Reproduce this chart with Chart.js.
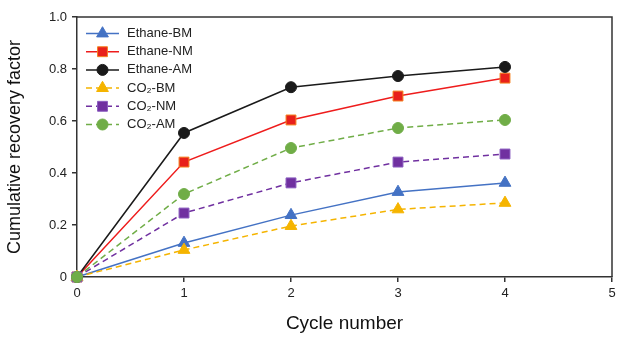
<!DOCTYPE html>
<html><head><meta charset="utf-8">
<script src="https://cdn.jsdelivr.net/npm/chart.js@4/dist/chart.umd.min.js"></script>
<style>html,body{margin:0;padding:0;background:#fff}#wrap{width:617px;height:339px}</style>
</head><body><div id="wrap"><canvas id="c"></canvas></div>
<script>
const cycles = [0, 1, 2, 3, 4];
const ethaneBM = [0, 0.131, 0.238, 0.327, 0.362];
const ethaneNM = [0, 0.442, 0.604, 0.696, 0.765];
const ethaneAM = [0, 0.554, 0.730, 0.773, 0.808];
const co2BM = [0, 0.104, 0.196, 0.260, 0.285];
const co2NM = [0, 0.246, 0.362, 0.442, 0.473];
const co2AM = [0, 0.319, 0.496, 0.573, 0.604];
const seriesNames = ['Ethane-BM', 'Ethane-NM', 'Ethane-AM', 'CO\u2082-BM', 'CO\u2082-NM', 'CO\u2082-AM'];
const xTicks = [0, 1, 2, 3, 4, 5];
const yTicks = [0, 0.2, 0.4, 0.6, 0.8, 1.0];

const styles = [
  {color:'#4472c4', fill:'#4472c4', border:'#4472c4', shape:'triangle', r:6.8, dash:[]},
  {color:'#ee1c1c', fill:'#e8201b', border:'#f58220', shape:'rect', r:7, dash:[]},
  {color:'#1a1a1a', fill:'#1a1a1a', border:'#1a1a1a', shape:'circle', r:5.5, dash:[]},
  {color:'#f5b400', fill:'#f5b400', border:'#f5b400', shape:'triangle', r:6.8, dash:[6,4]},
  {color:'#7030a0', fill:'#7030a0', border:'#8a5cbf', shape:'rect', r:7, dash:[6,4]},
  {color:'#70ad47', fill:'#70ad47', border:'#70ad47', shape:'circle', r:5.5, dash:[6,4]}
];
const values = [ethaneBM, ethaneNM, ethaneAM, co2BM, co2NM, co2AM];

const datasets = values.map((vals, i) => ({
  label: seriesNames[i],
  data: cycles.map((c, k) => ({x: c, y: vals[k]})),
  borderColor: styles[i].color,
  backgroundColor: styles[i].fill,
  pointBorderColor: styles[i].border,
  pointBackgroundColor: styles[i].fill,
  pointStyle: styles[i].shape,
  pointRadius: styles[i].r,
  pointBorderWidth: 1,
  borderWidth: 1.5,
  borderDash: styles[i].dash,
  tension: 0,
  clip: false,
  order: 6 - i
}));

function drawMarker(ctx, shape, x, y, r, fill, border) {
  ctx.save();
  ctx.setLineDash([]);
  ctx.fillStyle = fill; ctx.strokeStyle = border; ctx.lineWidth = 1;
  ctx.beginPath();
  if (shape === 'circle') {
    ctx.arc(x, y, r, 0, Math.PI * 2);
  } else if (shape === 'rect') {
    const s = r * Math.SQRT1_2;
    ctx.rect(x - s, y - s, 2 * s, 2 * s);
  } else {
    const a0 = -Math.PI / 2;
    for (let k = 0; k < 3; k++) {
      const a = a0 + k * 2 * Math.PI / 3;
      const px = x + Math.cos(a) * r, py = y + Math.sin(a) * r;
      if (k === 0) ctx.moveTo(px, py); else ctx.lineTo(px, py);
    }
    ctx.closePath();
  }
  ctx.fill(); ctx.stroke();
  ctx.restore();
}

const framePlugin = {
  id: 'frame',
  afterDraw(chart) {
    const {ctx, chartArea: a} = chart;
    ctx.save();
    ctx.strokeStyle = '#333'; ctx.lineWidth = 1.5;
    ctx.beginPath();
    ctx.moveTo(a.left, a.top); ctx.lineTo(a.right, a.top); ctx.lineTo(a.right, a.bottom);
    ctx.stroke();
    // legend
    const x0 = a.left + 9, x1 = a.left + 42, tx = a.left + 50;
    let y = a.top + 16.5;
    ctx.font = '13px "Liberation Sans", Arial, sans-serif';
    ctx.textBaseline = 'middle';
    ctx.textAlign = 'left';
    for (let i = 0; i < 6; i++) {
      const s = styles[i];
      ctx.strokeStyle = s.color; ctx.lineWidth = 1.5;
      ctx.setLineDash(s.dash.length ? [6, 4] : []);
      ctx.beginPath(); ctx.moveTo(x0, y); ctx.lineTo(x1, y); ctx.stroke();
      drawMarker(ctx, s.shape, (x0 + x1) / 2, y, s.r, s.fill, s.border);
      ctx.setLineDash([]);
      ctx.fillStyle = '#222';
      ctx.fillText(seriesNames[i], tx, y);
      y += 18.2;
    }
    ctx.restore();
  }
};

new Chart(document.getElementById('c'), {
  type: 'line',
  data: { datasets },
  options: {
    responsive: true,
    maintainAspectRatio: false,
    animation: false,
    layout: { autoPadding: false, padding: { left: 0, right: 5, top: 17, bottom: 0 } },
    plugins: { legend: { display: false }, tooltip: { enabled: false } },
    scales: {
      x: {
        type: 'linear', min: 0, max: 5,
        afterBuildTicks(s) { s.ticks = xTicks.map(v => ({value: v})); },
        afterFit(s) { s.height = 62; s.paddingRight = 0; s.paddingLeft = 0; },
        grid: { display: true, drawOnChartArea: false, drawTicks: true, tickLength: 5, color: '#333', lineWidth: 1.5 },
        border: { display: true, color: '#333', width: 1.5 },
        ticks: { color: '#222', font: { size: 13, family: '"Liberation Sans", Arial, sans-serif' }, padding: 4, maxRotation: 0,
          callback: v => String(v) },
        title: { display: true, text: 'Cycle number', color: '#111', font: { size: 19, family: '"Liberation Sans", Arial, sans-serif' }, padding: { top: 20 } }
      },
      y: {
        type: 'linear', min: 0, max: 1,
        afterBuildTicks(s) { s.ticks = yTicks.map(v => ({value: v})); },
        afterFit(s) { s.width = 77; },
        grid: { display: true, drawOnChartArea: false, drawTicks: true, tickLength: 5, color: '#333', lineWidth: 1.5 },
        border: { display: true, color: '#333', width: 1.5 },
        ticks: { color: '#222', font: { size: 13, family: '"Liberation Sans", Arial, sans-serif' }, padding: 5,
          callback: v => v === 0 ? '0' : v.toFixed(1) },
        title: { display: true, text: 'Cumulative recovery factor', color: '#111', font: { size: 18, family: '"Liberation Sans", Arial, sans-serif' }, padding: { bottom: 4 } }
      }
    }
  },
  plugins: [framePlugin]
});
</script>
</body></html>
